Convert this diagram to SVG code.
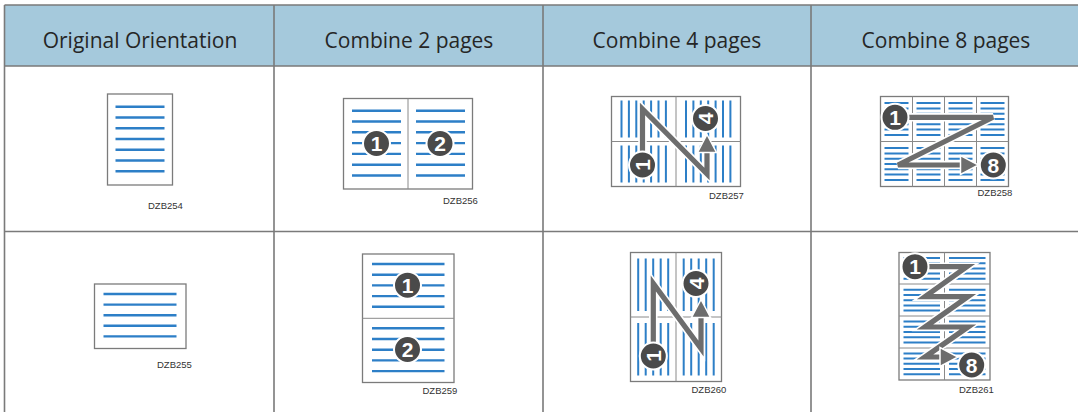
<svg xmlns="http://www.w3.org/2000/svg" width="1078" height="412" viewBox="0 0 1078 412">
<style>
.hdr{fill:#a5c9dc}
.grid{stroke:#7a7a7a;stroke-width:1.6;fill:none}
.ht{font-family:"Open Sans","Liberation Sans",sans-serif;font-size:21px;fill:#262626;text-anchor:middle}
.pg{fill:#fff;stroke:#7b7b7b;stroke-width:1.3}
.dv{stroke:#8a8a8a;stroke-width:1;fill:none}
.bl{stroke:#2d7fc7;stroke-width:2.4;fill:none}
.bs{stroke:#2d7fc7;stroke-width:2;fill:none}
.lb{font-family:"Liberation Sans",Arial,sans-serif;font-size:9.5px;fill:#333}
.nc{fill:#4a4a4a;stroke:#fff;stroke-width:2}
.nt{font-family:"Liberation Sans",Arial,sans-serif;font-size:21px;font-weight:bold;fill:#fff;text-anchor:middle}
.halo{stroke:#fff;stroke-width:8.5;fill:none;stroke-linejoin:miter}
.arw{stroke:#6d6d6d;stroke-width:5.2;fill:none;stroke-linejoin:miter}
.ah{fill:#6d6d6d;stroke:#fff;stroke-width:1.5}
</style>

<g id="table">
  <rect class="hdr" x="4.5" y="5" width="1075" height="61"/>
  <path class="grid" d="M4.5 5H1078 M4.5 66H1078 M4.5 231.5H1078 M4.5 5V412 M274 5V412 M543 5V412 M811 5V412"/>
  <text class="ht" x="140" y="48">Original Orientation</text>
  <text class="ht" x="409" y="48">Combine 2 pages</text>
  <text class="ht" x="677" y="48">Combine 4 pages</text>
  <text class="ht" x="946" y="48">Combine 8 pages</text>
</g>

<g id="orig-portrait">
  <rect class="pg" x="107.5" y="94" width="65" height="91"/>
  <path class="bl" d="M115.5 106.7H164.5M115.5 117.45H164.5M115.5 128.2H164.5M115.5 138.95H164.5M115.5 149.7H164.5M115.5 160.45H164.5M115.5 171.2H164.5"/>
  <text class="lb" x="148" y="209">DZB254</text>
</g>

<g id="orig-landscape">
  <rect class="pg" x="94.5" y="284" width="91.5" height="64.5"/>
  <path class="bl" d="M103.5 294H176.5M103.5 304.6H176.5M103.5 315.2H176.5M103.5 325.8H176.5M103.5 336.4H176.5"/>
  <text class="lb" x="157" y="368">DZB255</text>
</g>

<g id="combine2-portrait">
  <rect class="pg" x="343.5" y="98.5" width="129" height="90.5"/>
  <path class="dv" d="M408 98.5V189"/>
  <path class="bl" d="M352 110.7H401M416 110.7H465M352 121.5H401M416 121.5H465M352 132.3H401M416 132.3H465M352 143.1H401M416 143.1H465M352 153.9H401M416 153.9H465M352 164.7H401M416 164.7H465M352 175.5H401M416 175.5H465"/>
  <circle class="nc" cx="376.5" cy="143.5" r="13.5"/>
  <text class="nt" x="376.5" y="151">1</text>
  <circle class="nc" cx="440" cy="143.5" r="13.5"/>
  <text class="nt" x="440" y="151">2</text>
  <text class="lb" x="443" y="203.5">DZB256</text>
</g>

<g id="combine2-landscape">
  <rect class="pg" x="362.5" y="254" width="91.5" height="128.5"/>
  <path class="dv" d="M362.5 318.3H454"/>
  <path class="bl" d="M372 264H444.5M372 274.7H444.5M372 285.4H444.5M372 296.1H444.5M372 306.8H444.5M372 328.3H444.5M372 339H444.5M372 349.7H444.5M372 360.4H444.5M372 371.1H444.5"/>
  <circle class="nc" cx="407.5" cy="285.2" r="13.5"/>
  <text class="nt" x="407.5" y="292.7">1</text>
  <circle class="nc" cx="407.5" cy="349.5" r="13.5"/>
  <text class="nt" x="407.5" y="357">2</text>
  <text class="lb" x="422.5" y="393.5">DZB259</text>
</g>

<g id="combine4-portrait">
  <rect class="pg" x="611.5" y="96.5" width="129" height="90"/>
  <path class="dv" d="M676 96.5V186.5M611.5 141.5H740.5"/>
  <path class="bs" d="M621.5 100.5V137.5M621.5 145.5V182.5M628.9 100.5V137.5M628.9 145.5V182.5M636.3 100.5V137.5M636.3 145.5V182.5M643.7 100.5V137.5M643.7 145.5V182.5M651.1 100.5V137.5M651.1 145.5V182.5M658.5 100.5V137.5M658.5 145.5V182.5M665.9 100.5V137.5M665.9 145.5V182.5M686 100.5V137.5M686 145.5V182.5M693.4 100.5V137.5M693.4 145.5V182.5M700.8 100.5V137.5M700.8 145.5V182.5M708.2 100.5V137.5M708.2 145.5V182.5M715.6 100.5V137.5M715.6 145.5V182.5M723 100.5V137.5M723 145.5V182.5M730.4 100.5V137.5M730.4 145.5V182.5"/>
  <path class="halo" d="M642.5 165V109L707 174V150"/>
  <path class="arw" d="M642.5 165V109L707 174V150"/>
  <polygon class="ah" points="707,134.5 716.5,152.5 697.5,152.5"/>
  <circle class="nc" cx="642.5" cy="165" r="13.5"/>
  <text class="nt" x="642.5" y="172.5" transform="rotate(-90 642.5 165)">1</text>
  <circle class="nc" cx="705.5" cy="118.5" r="13.5"/>
  <text class="nt" x="705.5" y="126" transform="rotate(-90 705.5 118.5)">4</text>
  <text class="lb" x="709" y="198.5">DZB257</text>
</g>

<g id="combine4-landscape">
  <rect class="pg" x="630.5" y="252.5" width="91" height="129"/>
  <path class="dv" d="M676 252.5V381.5M630.5 317H721.5"/>
  <path class="bs" d="M638.2 258.5V311M638.2 323V375.5M645.7 258.5V311M645.7 323V375.5M653.2 258.5V311M653.2 323V375.5M660.7 258.5V311M660.7 323V375.5M668.2 258.5V311M668.2 323V375.5M683.7 258.5V311M683.7 323V375.5M691.2 258.5V311M691.2 323V375.5M698.7 258.5V311M698.7 323V375.5M706.2 258.5V311M706.2 323V375.5M713.7 258.5V311M713.7 323V375.5"/>
  <path class="halo" d="M653.3 356V283.5L701 348.5V315"/>
  <path class="arw" d="M653.3 356V283.5L701 348.5V315"/>
  <polygon class="ah" points="701,299.5 710.5,317.5 691.5,317.5"/>
  <circle class="nc" cx="653.3" cy="356" r="13.5"/>
  <text class="nt" x="653.3" y="363.5" transform="rotate(-90 653.3 356)">1</text>
  <circle class="nc" cx="696" cy="283.5" r="13.5"/>
  <text class="nt" x="696" y="291" transform="rotate(-90 696 283.5)">4</text>
  <text class="lb" x="691.5" y="393">DZB260</text>
</g>

<g id="combine8-portrait">
  <rect class="pg" x="880.5" y="96.5" width="128" height="90"/>
  <path class="dv" d="M912.5 96.5V186.5M944.5 96.5V186.5M976.5 96.5V186.5M880.5 141.5H1008.5"/>
  <path class="bs" d="M884.5 103.1H908.5M916.5 103.1H940.5M948.5 103.1H972.5M980.5 103.1H1004.5M884.5 108.4H908.5M916.5 108.4H940.5M948.5 108.4H972.5M980.5 108.4H1004.5M884.5 113.7H908.5M916.5 113.7H940.5M948.5 113.7H972.5M980.5 113.7H1004.5M884.5 119H908.5M916.5 119H940.5M948.5 119H972.5M980.5 119H1004.5M884.5 124.3H908.5M916.5 124.3H940.5M948.5 124.3H972.5M980.5 124.3H1004.5M884.5 129.6H908.5M916.5 129.6H940.5M948.5 129.6H972.5M980.5 129.6H1004.5M884.5 134.9H908.5M916.5 134.9H940.5M948.5 134.9H972.5M980.5 134.9H1004.5M884.5 148.1H908.5M916.5 148.1H940.5M948.5 148.1H972.5M980.5 148.1H1004.5M884.5 153.4H908.5M916.5 153.4H940.5M948.5 153.4H972.5M980.5 153.4H1004.5M884.5 158.7H908.5M916.5 158.7H940.5M948.5 158.7H972.5M980.5 158.7H1004.5M884.5 164H908.5M916.5 164H940.5M948.5 164H972.5M980.5 164H1004.5M884.5 169.3H908.5M916.5 169.3H940.5M948.5 169.3H972.5M980.5 169.3H1004.5M884.5 174.6H908.5M916.5 174.6H940.5M948.5 174.6H972.5M980.5 174.6H1004.5M884.5 179.9H908.5M916.5 179.9H940.5M948.5 179.9H972.5M980.5 179.9H1004.5"/>
  <path class="halo" d="M895 117.3H993L898 165H963"/>
  <path class="arw" d="M895 117.3H993L898 165H963"/>
  <polygon class="ah" points="978.5,165 960.5,174.5 960.5,155.5"/>
  <circle class="nc" cx="895" cy="117.3" r="13.5"/>
  <text class="nt" x="895" y="124.8">1</text>
  <circle class="nc" cx="993.3" cy="165" r="13.5"/>
  <text class="nt" x="993.3" y="172.5">8</text>
  <text class="lb" x="977.5" y="195.5">DZB258</text>
</g>

<g id="combine8-landscape">
  <rect class="pg" x="899" y="252.5" width="91" height="127.5"/>
  <path class="dv" d="M944.5 252.5V380M899 284H990M899 316H990M899 348H990"/>
  <path class="bs" d="M903.5 258H940M949 258H985.5M903.5 263.2H940M949 263.2H985.5M903.5 268.4H940M949 268.4H985.5M903.5 273.6H940M949 273.6H985.5M903.5 278.8H940M949 278.8H985.5M903.5 289.8H940M949 289.8H985.5M903.5 295H940M949 295H985.5M903.5 300.2H940M949 300.2H985.5M903.5 305.4H940M949 305.4H985.5M903.5 310.6H940M949 310.6H985.5M903.5 321.6H940M949 321.6H985.5M903.5 326.8H940M949 326.8H985.5M903.5 332H940M949 332H985.5M903.5 337.2H940M949 337.2H985.5M903.5 342.4H940M949 342.4H985.5M903.5 353.4H940M949 353.4H985.5M903.5 358.6H940M949 358.6H985.5M903.5 363.8H940M949 363.8H985.5M903.5 369H940M949 369H985.5M903.5 374.2H940M949 374.2H985.5"/>
  <path class="halo" d="M915 266.7H967L925 296.7H968L925 327H968L925 357H943"/>
  <path class="arw" d="M915 266.7H967L925 296.7H968L925 327H968L925 357H943"/>
  <polygon class="ah" points="958,357 940,366.5 940,347.5"/>
  <circle class="nc" cx="915" cy="266.7" r="13.5"/>
  <text class="nt" x="915" y="274.2">1</text>
  <circle class="nc" cx="971.7" cy="365" r="13.5"/>
  <text class="nt" x="971.7" y="372.5">8</text>
  <text class="lb" x="959" y="393">DZB261</text>
</g>
</svg>
